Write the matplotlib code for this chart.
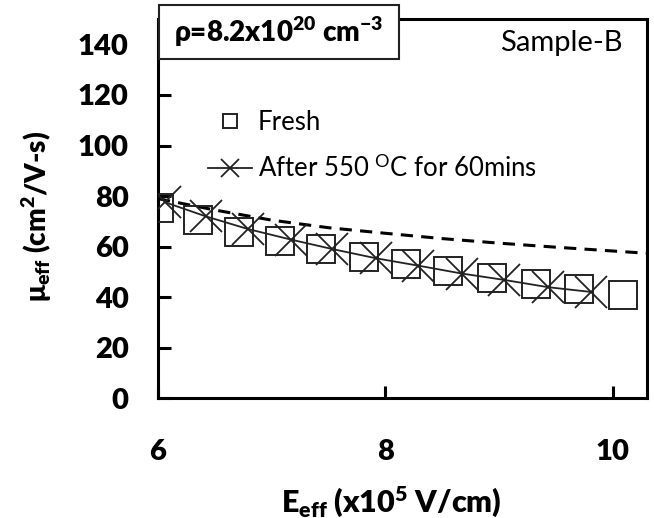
import matplotlib
matplotlib.use("Agg")
import matplotlib.pyplot as plt
from matplotlib.patches import Rectangle

plt.rcParams["font.family"] = ["Lato", "DejaVu Sans"]
plt.rcParams["mathtext.fontset"] = "custom"
plt.rcParams["mathtext.rm"] = "Lato"
plt.rcParams["mathtext.bf"] = "Lato:heavy"
plt.rcParams["mathtext.it"] = "Lato:italic"
BOLD = "heavy"

# Fresh sample (open squares)
E_fresh = [6.01, 6.35, 6.71, 7.07, 7.43, 7.81, 8.18, 8.55, 8.94, 9.32, 9.70, 10.09]
mu_fresh = [75.3, 70.5, 65.7, 62.4, 59.1, 55.8, 53.0, 50.4, 47.7, 45.1, 43.2, 41.1]

# After 550 C anneal for 60 mins (x markers + line)
E_after = [6.06, 6.42, 6.79, 7.17, 7.53, 7.92, 8.29, 8.67, 9.04, 9.43, 9.81]
mu_after = [77.6, 72.0, 67.0, 62.8, 59.1, 55.4, 52.5, 49.4, 46.9, 44.0, 42.1]

# dashed reference curve
E_ref = [6.0, 6.5, 7.0, 7.5, 8.0, 8.5, 9.0, 9.5, 10.0, 10.3]
mu_ref = [79.0, 74.5, 70.5, 67.5, 65.3, 63.2, 61.4, 59.8, 58.3, 57.4]

XTICKS = [6, 8, 10]
YTICKS = [0, 20, 40, 60, 80, 100, 120, 140]

fig = plt.figure(figsize=(6.54, 5.18), dpi=100)
ax = fig.add_axes([0.2416, 0.2307, 0.7477, 0.7326])

ax.plot(E_ref, mu_ref, color="black", lw=2.2, dashes=(4, 2.7), zorder=2)
ax.plot(E_fresh, mu_fresh, ls="none", marker="s", ms=19.5, mfc="none",
        mec="#222222", mew=1.4, label="Fresh", zorder=3)
ax.plot(E_after, mu_after, color="#222222", lw=1.3, marker="x", ms=23,
        mew=1.3, label=r"After 550 $^{\mathrm{O}}$C for 60mins", zorder=4)

ax.set_xlim(6, 10.3)
ax.set_ylim(0, 150)
ax.set_xticks(XTICKS)
ax.set_yticks(YTICKS)
for s in ax.spines.values():
    s.set_linewidth(2.2)
ax.tick_params(direction="in", length=9, width=2.2, labelsize=21)
ax.tick_params(axis="x", pad=29)
ax.tick_params(axis="y", pad=21)
for lab in ax.get_xticklabels() + ax.get_yticklabels():
    lab.set_fontweight(BOLD)

ax.set_xlabel(r"E$_{\mathbf{eff}}$ (x10$^{\mathbf{5}}$ V/cm)", fontsize=22,
              fontweight=BOLD)
ax.xaxis.set_label_coords(0.478, -0.225)
ax.set_ylabel(r"μ$_{\mathbf{eff}}$ (cm$^{\mathbf{2}}$/V-s)", fontsize=20,
              fontweight=BOLD)
ax.yaxis.set_label_coords(-0.212, 0.479)

ax.legend(loc="center left", bbox_to_anchor=(0.102, 0.665), frameon=False,
          fontsize=18.5, markerscale=0.55, handlelength=1.7, handletextpad=0.25,
          labelspacing=0.75, borderpad=0, borderaxespad=0)

ax.text(0.951, 0.937, "Sample-B", transform=ax.transAxes, ha="right",
        va="center", fontsize=21)

box = Rectangle((0.002, 0.8946), 0.4908, 0.1423, transform=ax.transAxes,
                facecolor="white", edgecolor="#222222", lw=1.5,
                clip_on=False, zorder=10)
ax.add_patch(box)
ax.text(0.247, 0.965, r"ρ=8.2x10$^{\mathbf{20}}$ cm$^{\mathbf{-3}}$",
        transform=ax.transAxes, ha="center", va="center", fontsize=20,
        fontweight=BOLD, zorder=11)

fig.savefig("out.png", dpi=100)
